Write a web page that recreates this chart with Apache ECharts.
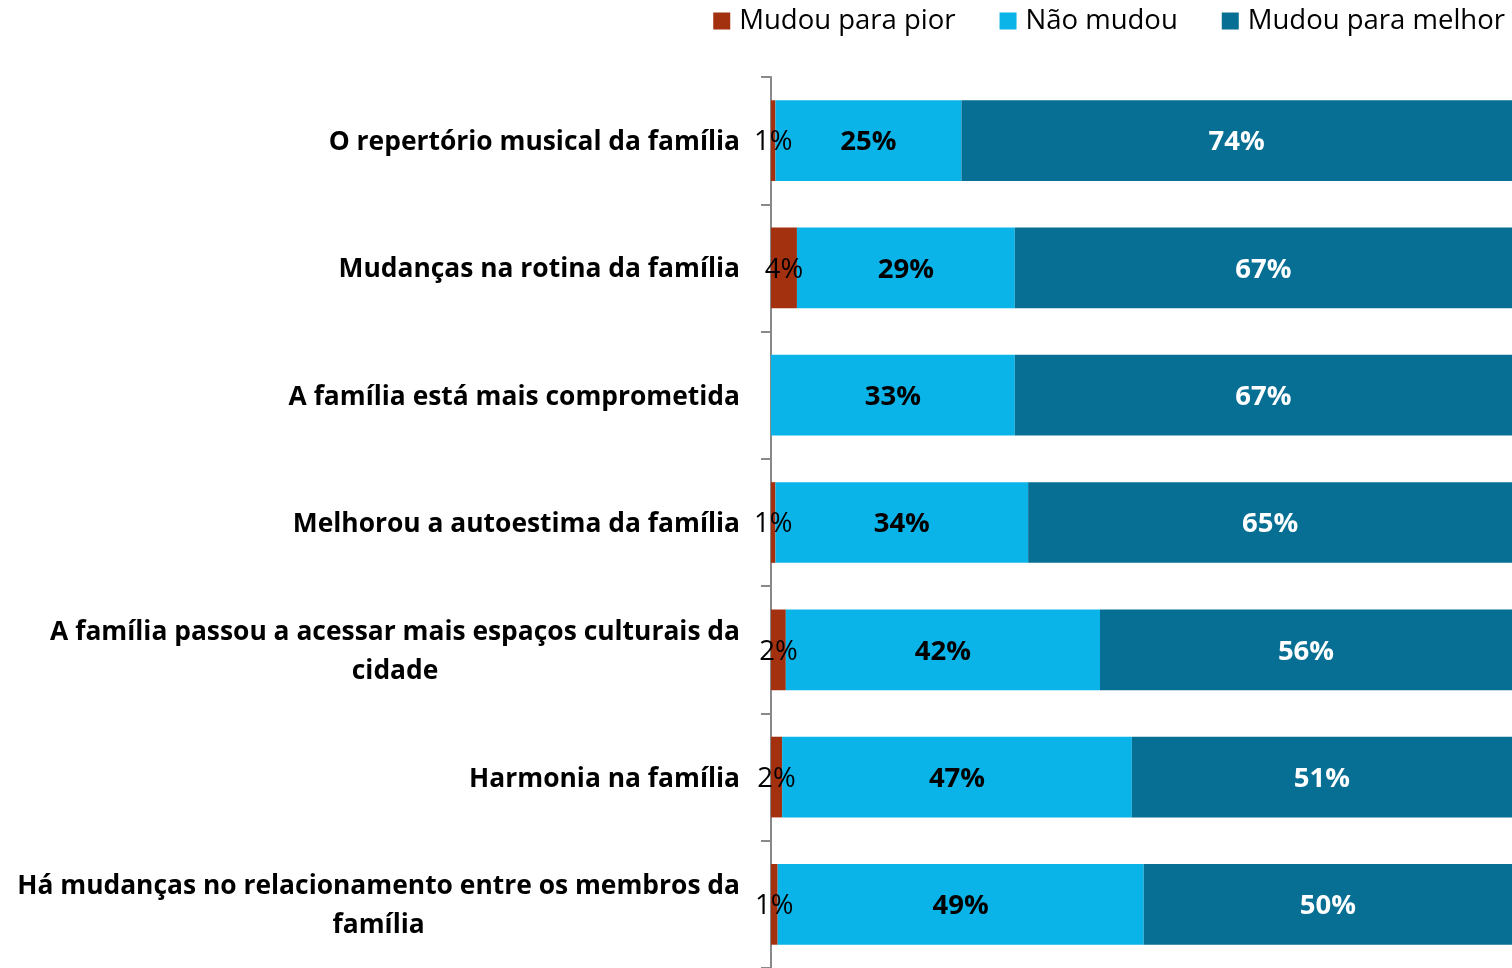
<!DOCTYPE html>
<html><head><meta charset="utf-8">
<script src="https://cdn.jsdelivr.net/npm/echarts@6/dist/echarts.min.js"></script>
<style>html,body{margin:0;padding:0;background:#fff}#c{width:1512px;height:968px}</style>
</head><body><div id="c"></div>
<script>
const pior = [0.6, 3.5, 0, 0.6, 2.0, 1.5, 0.9];
const nao = [25.1, 29.4, 32.9, 34.1, 42.4, 47.2, 49.4];
const melhor = [74.3, 67.1, 67.1, 65.3, 55.6, 51.3, 49.7];
const names = ["Mudou para pior", "Não mudou", "Mudou para melhor"];
const cats = [
  "O repertório musical da família",
  "Mudanças na rotina da família",
  "A família está mais comprometida",
  "Melhorou a autoestima da família",
  "A família passou a acessar mais espaços culturais da\ncidade",
  "Harmonia na família",
  "Há mudanças no relacionamento entre os membros da\nfamília"
];
const FONT = 'Open Sans';
const chart = echarts.init(document.getElementById('c'), null, {renderer:'canvas'});
const pct = p => p.value > 0 ? Math.round(p.value) + '%' : '';
chart.setOption({
  animation:false,
  textStyle:{fontFamily:FONT},
  legend:{
    right:2, top:2, itemWidth:17, itemHeight:17, itemGap:44, icon:'rect',
    textStyle:{fontSize:27.5, color:'#000', fontFamily:FONT, padding:[0,0,0,4]},
    data:names
  },
  grid:{left:771, top:77, width:741, height:894, containLabel:false},
  xAxis:{type:'value', min:0, max:100, show:false},
  yAxis:{
    type:'category', data:cats, inverse:true,
    axisLine:{show:true, lineStyle:{color:'#898989', width:2}},
    axisTick:{show:true, length:10, lineStyle:{color:'#898989', width:2}},
    axisLabel:{
      margin:31, color:'#000', fontSize:26.4, fontWeight:'bold', fontFamily:FONT, lineHeight:39,
      formatter: v => v.split('\n').map(s => '{c|' + s + '}').join('\n'),
      rich:{c:{align:'center', fontSize:26.4, fontWeight:'bold', fontFamily:FONT, lineHeight:39, color:'#000', padding:[4,0,0,0]}}
    }
  },
  series:[
    {name:names[0], type:'bar', stack:'t', data:pior, barCategoryGap:'36.6%',
     itemStyle:{color:'#A3300F'},
     label:{show:true, position:'inside', formatter:pct, color:'#000', fontSize:27.5, fontFamily:FONT, offset:[0,2]}},
    {name:names[1], type:'bar', stack:'t', data:nao,
     itemStyle:{color:'#0BB4E8'},
     label:{show:true, position:'inside', formatter:pct, color:'#000', fontSize:27.5, fontWeight:'bold', fontFamily:FONT, offset:[0,2]}},
    {name:names[2], type:'bar', stack:'t', data:melhor,
     itemStyle:{color:'#066F93'},
     label:{show:true, position:'inside', formatter:pct, color:'#fff', fontSize:27.5, fontWeight:'bold', fontFamily:FONT, offset:[0,2]}}
  ]
});
</script>
</body></html>
